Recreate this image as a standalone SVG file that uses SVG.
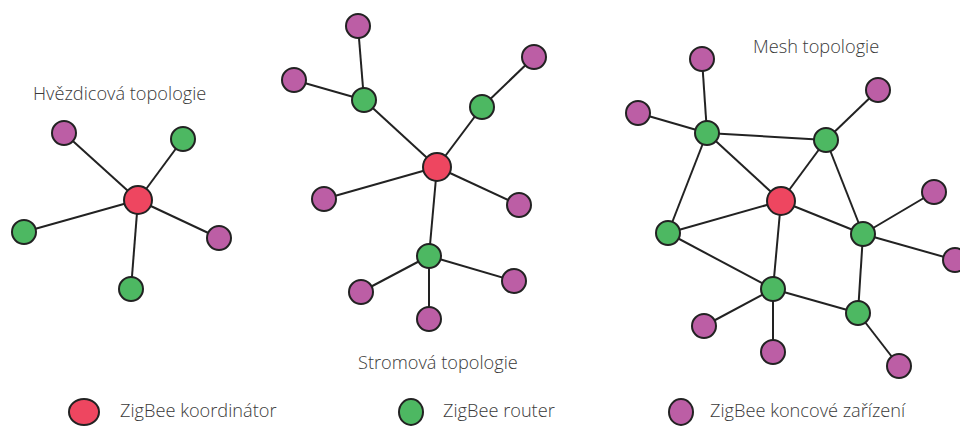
<svg xmlns="http://www.w3.org/2000/svg" width="960" height="426" viewBox="0 0 960 426">
  <style>
    .edge { stroke: #222; stroke-width: 2; fill: none; }
    .node { stroke: #222; stroke-width: 2; }
    .coord { fill: #EE4660; }
    .router { fill: #4DB862; }
    .end { fill: #BC5EA5; }
    .title, .legend { font-family: "Open Sans", "Liberation Sans", sans-serif; font-weight: 300; fill: #3a3a3a; }
    .title { font-size: 18.2px; }
    .legend { font-size: 18.2px; }
  </style>
  <rect width="960" height="426" fill="#fff"/>

  <!-- connectors -->
  <g id="connectors">
    <!-- star -->
    <line class="edge" x1="138" y1="200" x2="64" y2="133"/>
    <line class="edge" x1="138" y1="200" x2="183" y2="139"/>
    <line class="edge" x1="138" y1="200" x2="24" y2="232"/>
    <line class="edge" x1="138" y1="200" x2="219" y2="238"/>
    <line class="edge" x1="138" y1="200" x2="131" y2="289"/>
    <!-- tree -->
    <line class="edge" x1="364" y1="100" x2="358" y2="26"/>
    <line class="edge" x1="364" y1="100" x2="294" y2="80"/>
    <line class="edge" x1="364" y1="100" x2="437" y2="167"/>
    <line class="edge" x1="482" y1="107" x2="534" y2="57"/>
    <line class="edge" x1="482" y1="107" x2="437" y2="167"/>
    <line class="edge" x1="437" y1="167" x2="324" y2="199"/>
    <line class="edge" x1="437" y1="167" x2="519" y2="205"/>
    <line class="edge" x1="437" y1="167" x2="429" y2="256"/>
    <line class="edge" x1="429" y1="256" x2="361" y2="292"/>
    <line class="edge" x1="429" y1="256" x2="514" y2="281"/>
    <line class="edge" x1="429" y1="256" x2="429" y2="319"/>
    <!-- mesh -->
    <line class="edge" x1="707" y1="133" x2="702" y2="59"/>
    <line class="edge" x1="707" y1="133" x2="638" y2="113"/>
    <line class="edge" x1="707" y1="133" x2="826" y2="140"/>
    <line class="edge" x1="707" y1="133" x2="781" y2="201"/>
    <line class="edge" x1="707" y1="133" x2="668" y2="233"/>
    <line class="edge" x1="826" y1="140" x2="878" y2="90"/>
    <line class="edge" x1="826" y1="140" x2="781" y2="201"/>
    <line class="edge" x1="826" y1="140" x2="863" y2="234"/>
    <line class="edge" x1="781" y1="201" x2="668" y2="233"/>
    <line class="edge" x1="781" y1="201" x2="863" y2="234"/>
    <line class="edge" x1="781" y1="201" x2="773" y2="289"/>
    <line class="edge" x1="668" y1="233" x2="773" y2="289"/>
    <line class="edge" x1="863" y1="234" x2="934" y2="192"/>
    <line class="edge" x1="863" y1="234" x2="955" y2="260"/>
    <line class="edge" x1="863" y1="234" x2="858" y2="313"/>
    <line class="edge" x1="773" y1="289" x2="858" y2="313"/>
    <line class="edge" x1="773" y1="289" x2="704" y2="326"/>
    <line class="edge" x1="773" y1="289" x2="773" y2="352"/>
    <line class="edge" x1="858" y1="313" x2="899" y2="366"/>
  </g>

  <!-- star topology -->
  <text class="title" x="33" y="100">Hvězdicová topologie</text>
  <g id="star-coordinator"><circle class="node coord" cx="138" cy="200" r="14"/></g>
  <g id="star-end-1"><circle class="node end" cx="64" cy="133" r="12"/></g>
  <g id="star-router-1"><circle class="node router" cx="183" cy="139" r="12"/></g>
  <g id="star-router-2"><circle class="node router" cx="24" cy="232" r="12"/></g>
  <g id="star-end-2"><circle class="node end" cx="219" cy="238" r="12"/></g>
  <g id="star-router-3"><circle class="node router" cx="131" cy="289" r="12"/></g>

  <!-- tree topology -->
  <text class="title" x="358" y="369">Stromová topologie</text>
  <g id="tree-coordinator"><circle class="node coord" cx="437" cy="167" r="14"/></g>
  <g id="tree-router-1"><circle class="node router" cx="364" cy="100" r="12"/></g>
  <g id="tree-router-2"><circle class="node router" cx="482" cy="107" r="12"/></g>
  <g id="tree-router-3"><circle class="node router" cx="429" cy="256" r="12"/></g>
  <g id="tree-end-1"><circle class="node end" cx="358" cy="26" r="12"/></g>
  <g id="tree-end-2"><circle class="node end" cx="294" cy="80" r="12"/></g>
  <g id="tree-end-3"><circle class="node end" cx="534" cy="57" r="12"/></g>
  <g id="tree-end-4"><circle class="node end" cx="324" cy="199" r="12"/></g>
  <g id="tree-end-5"><circle class="node end" cx="519" cy="205" r="12"/></g>
  <g id="tree-end-6"><circle class="node end" cx="361" cy="292" r="12"/></g>
  <g id="tree-end-7"><circle class="node end" cx="514" cy="281" r="12"/></g>
  <g id="tree-end-8"><circle class="node end" cx="429" cy="319" r="12"/></g>

  <!-- mesh topology -->
  <text class="title" x="753" y="53">Mesh topologie</text>
  <g id="mesh-coordinator"><circle class="node coord" cx="781" cy="201" r="14"/></g>
  <g id="mesh-router-1"><circle class="node router" cx="707" cy="133" r="12"/></g>
  <g id="mesh-router-2"><circle class="node router" cx="826" cy="140" r="12"/></g>
  <g id="mesh-router-3"><circle class="node router" cx="668" cy="233" r="12"/></g>
  <g id="mesh-router-4"><circle class="node router" cx="863" cy="234" r="12"/></g>
  <g id="mesh-router-5"><circle class="node router" cx="773" cy="289" r="12"/></g>
  <g id="mesh-router-6"><circle class="node router" cx="858" cy="313" r="12"/></g>
  <g id="mesh-end-1"><circle class="node end" cx="702" cy="59" r="12"/></g>
  <g id="mesh-end-2"><circle class="node end" cx="638" cy="113" r="12"/></g>
  <g id="mesh-end-3"><circle class="node end" cx="878" cy="90" r="12"/></g>
  <g id="mesh-end-4"><circle class="node end" cx="934" cy="192" r="12"/></g>
  <g id="mesh-end-5"><circle class="node end" cx="955" cy="260" r="12"/></g>
  <g id="mesh-end-6"><circle class="node end" cx="704" cy="326" r="12"/></g>
  <g id="mesh-end-7"><circle class="node end" cx="773" cy="352" r="12"/></g>
  <g id="mesh-end-8"><circle class="node end" cx="899" cy="366" r="12"/></g>

  <!-- legend -->
  <g id="legend-coordinator">
    <ellipse class="node coord" cx="84" cy="412" rx="15" ry="13"/>
    <text class="legend" x="120" y="417">ZigBee koordinátor</text>
  </g>
  <g id="legend-router">
    <ellipse class="node router" cx="411" cy="412" rx="12" ry="13"/>
    <text class="legend" x="443" y="417">ZigBee router</text>
  </g>
  <g id="legend-end">
    <ellipse class="node end" cx="681" cy="412" rx="12" ry="13"/>
    <text class="legend" x="710" y="417">ZigBee koncové zařízení</text>
  </g>
</svg>
